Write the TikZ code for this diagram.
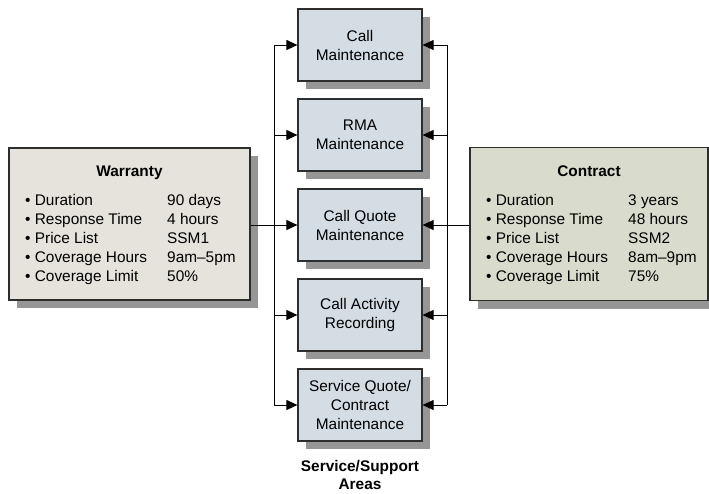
\documentclass[tikz,border=0pt]{standalone}
\usepackage{fontspec}
\setmainfont{Liberation Sans}
\usetikzlibrary{arrows.meta,shadows,positioning}

\definecolor{warrantyfill}{RGB}{230,226,220}
\definecolor{contractfill}{RGB}{217,220,204}
\definecolor{areafill}{RGB}{212,220,228}
\definecolor{shadowgray}{RGB}{150,150,150}
\definecolor{edge}{RGB}{45,45,45}

\tikzset{
  boxshadow/.style={drop shadow={shadow xshift=8pt, shadow yshift=-8pt, fill=shadowgray, opacity=1}},
  plan/.style={draw=edge, line width=1.2pt, rectangle, inner sep=0pt, boxshadow},
  areabox/.style={plan, fill=areafill, minimum width=124pt, minimum height=72pt,
    align=center, font=\fontsize{15.4}{19}\selectfont},
  txt/.style={anchor=base west, inner sep=0pt, font=\fontsize{15.4}{19}\selectfont},
  ttl/.style={anchor=base, inner sep=0pt, font=\fontsize{15.4}{19}\selectfont\bfseries},
  link/.style={draw=black, line width=1pt},
  feed/.style={link, -{Triangle[length=11pt,width=10pt]}},
}

\begin{document}
\begin{tikzpicture}[x=1pt, y=-1pt]
\useasboundingbox (0,0) rectangle (709,493);

% service/support areas
\node[areabox] (cm) at (360,45)  {Call\\Maintenance};
\node[areabox] (rm) at (360,135) {RMA\\Maintenance};
\node[areabox] (cq) at (360,225) {Call Quote\\Maintenance};
\node[areabox] (ca) at (360,315) {Call Activity\\Recording};
\node[areabox] (sq) at (360,405) {Service Quote/\\Contract\\Maintenance};

\node[font=\fontsize{15.4}{18}\selectfont\bfseries, align=center, inner sep=0pt]
  (areas) at (360,475) {Service/Support\\Areas};

% warranty panel
\node[plan, fill=warrantyfill, minimum width=241pt, minimum height=152pt] (w) at (129.5,224) {};
\node[ttl] (wt) at (129.5,176) {Warranty};
\foreach \k/\lab/\val [count=\i from 0] in
  {wd/Duration/90 days, wr/Response Time/4 hours, wp/Price List/SSM1,
   wh/Coverage Hours/9am–5pm, wl/Coverage Limit/50\%}{
  \node[txt] (\k) at (25,205+19*\i) {•\ \lab};
  \node[txt] (\k v) at (167,205+19*\i) {\val};
}

% contract panel
\node[plan, fill=contractfill, minimum width=238pt, minimum height=153pt] (c) at (589,224) {};
\node[ttl] (ct) at (589,176) {Contract};
\foreach \k/\lab/\val [count=\i from 0] in
  {cd/Duration/3 years, cr/Response Time/48 hours, cp/Price List/SSM2,
   ch/Coverage Hours/8am–9pm, cl/Coverage Limit/75\%}{
  \node[txt] (\k) at (486,205+19*\i) {•\ \lab};
  \node[txt] (\k v) at (628,205+19*\i) {\val};
}

% distribution buses
\coordinate (bl) at (274,0);
\coordinate (br) at (447,0);

\draw[link] (bl |- cm.west) -- (bl |- sq.west);
\draw[link] (br |- cm.east) -- (br |- sq.east);
\draw[link] (w.east |- cq.west) -- (bl |- cq.west);
\draw[link] (c.west |- cq.east) -- (br |- cq.east);

\foreach \n in {cm,rm,cq,ca,sq}{
  \draw[feed] (bl |- \n.west) -- (\n.west);
  \draw[feed] (br |- \n.east) -- (\n.east);
}
\end{tikzpicture}
\end{document}
